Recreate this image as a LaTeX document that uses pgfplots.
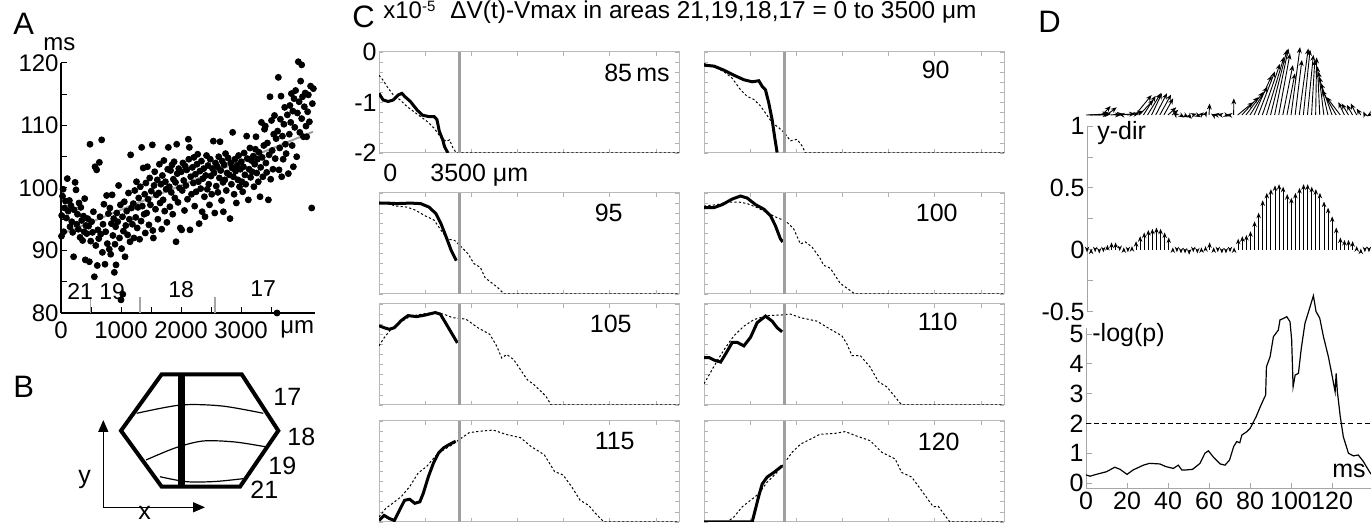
\documentclass[border=0pt]{standalone}
\usepackage{fontspec}
\setmainfont{Liberation Sans}
\usepackage{pgfplots}
\pgfplotsset{compat=1.18}
\usetikzlibrary{arrows.meta}
% positions: reference pixel (x from left, y from top), 1 px = 0.5pt
\newcommand\fs[1]{\fontsize{#1}{#1}\selectfont}

\pgfplotsset{
  every axis/.append style={scale only axis, anchor=south west,
    /pgf/number format/assume math mode=true, /pgf/number format/1000 sep={},
    scaled ticks=false},
  cpanel/.style={width=150pt, height=50.5pt, xmin=0, xmax=13000, ymin=-2, ymax=0,
    axis line style={gray!55, line width=0.5pt},
    xtick={0,2000,...,12000}, ytick={-2,-1,0},
    minor ytick={-1.8,-1.6,-1.4,-1.2,-0.8,-0.6,-0.4,-0.2},
    xticklabels={}, yticklabels={}, tick align=inside,
    major tick length=2pt, minor tick length=2pt,
    tick style={gray!60, line width=0.3pt},
    yticklabel style={font=\fs{12.5}, inner sep=1pt}},
  solid curve/.style={black, line width=1.5pt},
  model curve/.style={black, line width=0.5pt, dash pattern=on 1.1pt off 1.1pt},
  mark3500/.style={gray!75, line width=1.4pt},
}

\begin{document}
\begin{tikzpicture}
\useasboundingbox (0,0) rectangle (685.5pt,261.5pt);

% ---------------- A: latency vs position ----------------
\begin{axis}[at={(30.5pt,105pt)}, width=127pt, height=125pt,
  xmin=0, xmax=4233, ymin=80, ymax=120,
  axis x line*=bottom, axis y line*=left, axis line style={-, line width=0.7pt},
  xtick={0,1000,2000,3000}, minor xtick={500,1500,2500,3500},
  ytick={80,90,...,120}, minor ytick={85,95,105,115},
  tick align=inside, major tick length=3pt, minor tick length=3pt,
  tick style={black, line width=0.5pt},
  tick label style={font=\fs{12}},
  yticklabel style={inner sep=1pt}, xticklabel style={inner sep=2.5pt, yshift=-1.5pt},
  clip=false]
\addplot[only marks, mark=*, mark size=1.5pt, black] coordinates {
(8,92.3)(12,95.6)(25,98.7)(35,99.8)(45,93.0)(60,96.8)(75,97.9)(90,95.2)(105,101.5)(120,96.3)(140,98.0)(150,93.8)(165,97.2)(180,94.6)(195,92.9)
(210,89.0)(220,96.5)(235,100.9)(250,99.7)(262,94.2)(275,95.8)(290,93.4)(300,97.6)(318,92.1)(330,96.9)(345,94.8)(360,91.6)(375,95.5)(385,93.0)(395,98.3)
(405,88.5)(415,94.0)(430,92.7)(445,95.1)(460,93.9)(472,88.2)(483,107.0)(495,91.5)(510,94.6)(525,92.9)(540,96.2)(556,85.8)(567,103.4)(580,90.8)(594,102.9)
(605,87.6)(615,93.3)(628,91.9)(639,104.1)(650,95.4)(662,92.6)(678,107.7)(690,89.7)(700,94.2)(715,97.4)(733,87.8)(745,93.0)(760,98.8)(772,91.1)(790,95.9)
(805,90.2)(815,96.8)(828,89.4)(840,94.3)(852,98.9)(865,92.4)(878,95.1)(889,86.5)(900,91.0)(910,93.8)(917,87.7)(930,96.0)(945,94.6)(960,100.4)(975,92.0)(990,97.3)
(1000,82.1)(1030,83.0)(1010,90.3)(1025,95.4)(1040,93.1)(1055,97.8)(1067,89.0)(1080,94.0)(1095,96.3)(1110,92.5)(1125,99.2)(1140,95.0)(1150,91.4)(1161,105.3)(1175,96.8)(1190,94.2)
(1205,97.5)(1215,92.0)(1230,99.6)(1245,95.3)(1258,101.0)(1270,93.6)(1282,96.9)(1295,98.4)(1310,91.8)(1322,100.2)(1335,94.7)(1344,106.5)(1355,97.1)(1370,103.2)(1385,95.8)(1395,99.0)
(1405,92.8)(1415,100.8)(1428,96.0)(1440,103.4)(1452,98.2)(1465,94.1)(1478,101.6)(1490,97.3)(1505,99.5)(1522,106.9)(1530,93.2)(1539,92.0)(1550,100.4)(1562,102.6)(1575,96.6)(1590,98.9)
(1605,101.3)(1615,95.0)(1628,99.2)(1640,103.8)(1652,97.6)(1665,100.6)(1678,93.4)(1690,102.0)(1702,98.1)(1715,104.4)(1728,96.3)(1740,101.0)(1752,99.8)(1765,94.5)(1778,103.0)(1789,106.5)
(1805,100.2)(1815,97.0)(1826,102.8)(1838,99.3)(1850,103.7)(1862,95.8)(1873,101.4)(1885,104.2)(1897,98.4)(1908,100.9)(1917,91.4)(1928,107.0)(1938,102.3)(1950,97.7)(1962,103.1)(1975,100.0)(1988,93.6)
(2005,102.6)(2011,93.3)(2020,99.6)(2032,104.0)(2045,101.2)(2058,96.4)(2070,103.5)(2082,100.4)(2095,102.9)(2108,98.2)(2122,107.8)(2130,104.6)(2139,106.5)(2150,93.3)(2162,101.8)(2175,99.0)(2190,103.3)
(2205,100.8)(2215,104.9)(2228,97.1)(2240,102.2)(2252,99.4)(2265,103.8)(2278,105.4)(2290,101.0)(2302,94.3)(2315,102.7)(2328,99.9)(2340,104.3)(2352,96.2)(2365,101.5)(2378,103.1)(2390,98.6)
(2400,95.4)(2412,102.0)(2425,105.2)(2438,99.8)(2450,103.6)(2462,100.6)(2475,97.3)(2488,104.6)(2500,101.9)(2512,99.0)(2525,103.1)(2539,107.5)(2550,102.4)(2562,96.0)(2575,104.0)(2588,100.3)
(2605,103.4)(2615,99.3)(2628,105.0)(2640,101.6)(2650,107.4)(2662,102.8)(2675,98.0)(2688,104.3)(2700,100.9)(2706,96.2)(2718,103.7)(2730,101.3)(2742,105.5)(2755,99.6)(2768,102.4)(2785,104.8)
(2805,102.1)(2817,95.1)(2828,104.0)(2840,100.6)(2852,103.2)(2861,108.9)(2872,101.8)(2885,99.0)(2898,104.6)(2910,102.7)(2922,97.6)(2935,103.6)(2948,101.3)(2960,105.2)(2975,100.2)(2990,103.0)
(3005,104.2)(3015,101.0)(3028,99.4)(3040,103.4)(3052,105.6)(3065,102.1)(3078,100.6)(3094,108.3)(3105,104.7)(3122,98.1)(3135,103.0)(3148,106.4)(3160,101.7)(3172,104.4)(3185,102.6)
(3205,105.1)(3215,100.2)(3228,103.8)(3240,106.2)(3250,108.2)(3262,102.4)(3275,104.6)(3288,101.0)(3300,105.7)(3317,98.6)(3328,103.3)(3340,110.5)(3352,104.9)(3365,101.8)(3380,106.8)(3392,109.4)
(3405,109.9)(3415,104.0)(3428,102.5)(3440,107.2)(3456,98.1)(3468,105.3)(3483,114.6)(3495,101.4)(3508,110.8)(3520,106.0)(3532,103.0)(3545,108.6)(3558,111.6)(3570,104.7)(3585,107.9)(3600,80.0)
(3610,109.1)(3622,117.7)(3634,102.9)(3645,106.4)(3656,111.0)(3667,114.7)(3678,101.8)(3690,108.3)(3702,104.6)(3715,110.2)(3728,112.9)(3740,107.0)(3752,105.5)(3772,111.7)(3789,102.3)
(3805,108.6)(3815,113.2)(3828,110.5)(3840,115.1)(3852,106.8)(3864,112.3)(3872,103.4)(3884,114.3)(3896,109.7)(3910,115.6)(3928,105.0)(3940,112.0)(3955,120.2)(3968,113.8)(3980,108.9)(3994,117.1)
(4011,119.7)(4011,111.1)(4025,114.6)(4040,108.2)(4055,113.0)(4070,115.2)(4083,109.9)(4094,108.2)(4110,112.2)(4122,114.9)(4140,110.6)(4160,116.3)(4178,96.8)(4189,113.5)(4206,115.9)
};
\addplot[gray!75, line width=1pt] coordinates {(0,92.6)(4200,109)};
\addplot[gray!70, line width=0.6pt] coordinates {(495,80)(495,82.6)};
\addplot[gray!70, line width=0.6pt] coordinates {(1317,80)(1317,82.6)};
\addplot[gray!70, line width=0.6pt] coordinates {(2567,80)(2567,82.6)};
\end{axis}

% ---------------- C: eight profiles ----------------
\begin{axis}[cpanel, at={(189.5pt,185pt)}, yticklabels={-2,-1,0}]
\addplot[model curve] coordinates {(0,-0.46)(177,-0.56)(400,-0.72)(620,-0.85)(916,-0.95)(1211,-1.08)(1506,-1.18)(1802,-1.28)(2097,-1.38)(2393,-1.51)(2688,-1.70)(2910,-1.77)(3057,-1.74)(3205,-1.90)(3353,-2.0)(13000,-2.0)};
\addplot[solid curve] coordinates {(0,-0.82)(177,-0.95)(400,-0.98)(620,-0.95)(842,-0.85)(990,-0.82)(1137,-0.89)(1359,-0.98)(1654,-1.15)(1876,-1.25)(2171,-1.28)(2393,-1.28)(2511,-1.34)(2614,-1.57)(2762,-1.74)(2836,-1.87)(2984,-2.0)};
\addplot[mark3500] coordinates {(3500,-2)(3500,0)};
\end{axis}
\begin{axis}[cpanel, at={(352pt,185pt)}]
\addplot[model curve] coordinates {(0,-0.23)(432,-0.29)(864,-0.39)(1224,-0.52)(1584,-0.75)(1872,-0.88)(2160,-0.94)(2448,-1.07)(2664,-1.21)(2952,-1.40)(3240,-1.50)(3485,-1.60)(3744,-1.76)(4032,-1.73)(4248,-1.86)(4392,-2.0)(13000,-2)};
\addplot[solid curve] coordinates {(0,-0.26)(432,-0.28)(864,-0.36)(1296,-0.46)(1728,-0.55)(2088,-0.59)(2376,-0.57)(2520,-0.68)(2664,-0.75)(2808,-1.01)(2952,-1.34)(3053,-1.66)(3168,-1.99)};
\addplot[mark3500] coordinates {(3500,-2)(3500,0)};
\end{axis}
\begin{axis}[cpanel, at={(189.5pt,114.5pt)}]
\addplot[model curve] coordinates {(0,-0.18)(325,-0.21)(768,-0.26)(1211,-0.28)(1580,-0.34)(1950,-0.44)(2393,-0.54)(2688,-0.74)(2984,-0.91)(3280,-0.94)(3575,-1.07)(3870,-1.21)(4114,-1.40)(4387,-1.47)(4600,-1.68)(5138,-1.87)(5426,-2.0)(13000,-2)};
\addplot[solid curve] coordinates {(0,-0.2)(325,-0.2)(768,-0.21)(1359,-0.2)(1802,-0.21)(2171,-0.28)(2467,-0.41)(2688,-0.61)(2910,-0.87)(3131,-1.14)(3353,-1.34)};
\addplot[mark3500] coordinates {(3500,-2)(3500,0)};
\end{axis}
\begin{axis}[cpanel, at={(352pt,114.5pt)}]
\addplot[model curve] coordinates {(0,-0.26)(576,-0.23)(1008,-0.18)(1512,-0.18)(1872,-0.21)(2304,-0.29)(2736,-0.39)(3168,-0.49)(3528,-0.55)(3888,-0.71)(4176,-1.01)(4392,-0.97)(4680,-1.07)(5040,-1.30)(5184,-1.43)(5472,-1.49)(5904,-1.79)(6480,-1.98)(6550,-2)(13000,-2)};
\addplot[solid curve] coordinates {(0,-0.29)(432,-0.29)(792,-0.23)(1224,-0.12)(1584,-0.06)(1872,-0.10)(2232,-0.23)(2592,-0.32)(2880,-0.45)(3096,-0.65)(3312,-0.91)(3413,-0.97)};
\addplot[mark3500] coordinates {(3500,-2)(3500,0)};
\end{axis}
\begin{axis}[cpanel, at={(189.5pt,59pt)}]
\addplot[model curve] coordinates {(0,-0.83)(222,-0.67)(517,-0.5)(886,-0.37)(1329,-0.25)(1846,-0.2)(2363,-0.17)(2806,-0.2)(3176,-0.27)(3767,-0.3)(4283,-0.47)(4800,-0.6)(5096,-0.83)(5318,-1.07)(5539,-1.0)(5834,-1.1)(6130,-1.3)(6425,-1.5)(6721,-1.6)(7016,-1.73)(7238,-1.83)(7460,-2.0)(13000,-2)};
\addplot[solid curve] coordinates {(0,-0.43)(222,-0.47)(443,-0.5)(665,-0.47)(960,-0.33)(1255,-0.23)(1625,-0.25)(1994,-0.22)(2437,-0.17)(2659,-0.20)(2880,-0.37)(3176,-0.60)(3397,-0.77)};
\addplot[mark3500] coordinates {(3500,-2)(3500,0)};
\end{axis}
\begin{axis}[cpanel, at={(352pt,59pt)}]
\addplot[model curve] coordinates {(0,-1.58)(288,-1.35)(576,-1.12)(936,-0.86)(1296,-0.63)(1728,-0.44)(2160,-0.31)(2736,-0.23)(3312,-0.22)(3744,-0.2)(4176,-0.27)(4896,-0.34)(5472,-0.5)(5976,-0.63)(6192,-0.79)(6408,-1.02)(6768,-1.02)(7200,-1.25)(7560,-1.54)(7920,-1.64)(8208,-1.8)(8568,-2.0)(13000,-2)};
\addplot[solid curve] coordinates {(0,-1.06)(216,-1.06)(432,-1.11)(720,-1.15)(936,-0.99)(1224,-0.76)(1440,-0.76)(1728,-0.83)(2016,-0.66)(2304,-0.37)(2664,-0.24)(2952,-0.34)(3168,-0.47)(3384,-0.55)};
\addplot[mark3500] coordinates {(3500,-2)(3500,0)};
\end{axis}
\begin{axis}[cpanel, at={(189.5pt,0.5pt)}]
\addplot[model curve] coordinates {(0,-1.9)(295,-1.73)(591,-1.63)(960,-1.5)(1329,-1.3)(1698,-1.03)(2068,-0.9)(2437,-0.7)(2806,-0.57)(3176,-0.47)(3471,-0.37)(3914,-0.23)(4431,-0.2)(4948,-0.18)(5539,-0.27)(6130,-0.33)(6573,-0.5)(7164,-0.67)(7607,-1.0)(7976,-1.07)(8345,-1.3)(8714,-1.57)(9083,-1.67)(9380,-1.83)(9750,-2.0)(13000,-2)};
\addplot[solid curve] coordinates {(0,-1.97)(222,-1.87)(443,-1.93)(665,-1.97)(886,-1.77)(1108,-1.57)(1329,-1.55)(1551,-1.63)(1772,-1.6)(1920,-1.43)(2142,-1.1)(2363,-0.83)(2585,-0.63)(2806,-0.53)(3028,-0.47)(3323,-0.4)};
\addplot[mark3500] coordinates {(3500,-2)(3500,0)};
\end{axis}
\begin{axis}[cpanel, at={(352pt,0.5pt)}]
\addplot[model curve] coordinates {(0,-2)(1008,-2)(1296,-1.9)(1656,-1.7)(2016,-1.57)(2376,-1.44)(2736,-1.21)(3096,-1.05)(3456,-0.85)(3816,-0.62)(4176,-0.46)(4608,-0.36)(5040,-0.26)(5616,-0.25)(6120,-0.21)(6624,-0.3)(7200,-0.39)(7704,-0.62)(8280,-0.75)(8568,-1.02)(9000,-1.11)(9432,-1.38)(9936,-1.7)(10152,-1.69)(10440,-1.87)(10656,-2.0)(13000,-2)};
\addplot[solid curve] coordinates {(0,-2)(2088,-2)(2232,-1.74)(2376,-1.48)(2520,-1.25)(2736,-1.11)(3024,-1.02)(3384,-0.89)};
\addplot[mark3500] coordinates {(3500,-2)(3500,0)};
\end{axis}

% ---------------- D1: direction vectors ----------------
\begin{axis}[at={(543pt,197.6pt)}, width=142.5pt, height=44.8pt,
  xmin=0, xmax=139, ymin=-0.1, ymax=0.6, hide axis, clip=false]
\addplot[black, line width=0.45pt, -{Stealth[length=3pt,width=2.4pt]},
  quiver={u=\thisrow{u}, v=\thisrow{v}}] table[x=t, y=y0] {
t u v y0
0 12 0.005 0
2 10 0.01 0
4 7 0.003 0
6 5 0.02 0
8 4 0.07 0
10 5 0.06 0
12 6 0.01 0
14 3 0.005 0
16 8 0.01 0
18 -2 0.005 0
20 6 0.01 0
22 6 0.03 0
24 8 0.156 0
26 7 0.12 0
28 6 0.15 0
30 6.5 0.17 0
32 5 0.17 0
34 5.5 0.17 0
36 5.5 0.16 0
38 4.5 0.13 0
40 4 0.06 0
42 3 0.04 0
44 -1.5 0.02 0
46 2 -0.02 0
48 2 -0.02 0
50 1.5 -0.03 0
52 2 0.01 0
54 2 -0.015 0
56 1.5 0.02 0
58 1 0.03 0
60 0.3 0.09 0
62 -1 0.01 0
64 -2 0.005 0
66 -2 0.005 0
68 2 -0.01 0
70 -1.5 0.003 0
72 0.1 0.13 0
74 7.6 0.10 0
76 8.1 0.14 0
78 8.5 0.18 0
80 8.5 0.22 0
82 8.6 0.31 0
84 8.1 0.34 0
86 8.6 0.40 0
88 8.6 0.455 0
90 8.0 0.51 0
92 6.7 0.52 0
94 5.5 0.48 0
96 4.9 0.39 0
98 3.9 0.325 0
100 4.4 0.53 0
102 3.3 0.43 0
104 4.4 0.52 0
106 3.3 0.51 0
108 2.9 0.47 0
110 1.6 0.43 0
112 0.5 0.45 0
114 -1.1 0.38 0
116 -2.6 0.34 0
118 -4.2 0.30 0
120 -5.5 0.25 0
122 -7 0.195 0
124 -6.7 0.14 0
126 -2.9 0.10 0
128 -3.3 0.09 0
130 -2.8 0.08 0
132 -2.9 0.09 0
134 -2 0.05 0
136 -0.7 0.026 0
138 -1 -0.01 0
};
\end{axis}

% ---------------- D2: y-direction component ----------------
\begin{axis}[at={(543.5pt,105.65pt)}, width=142pt, height=92.85pt,
  xmin=0, xmax=139, ymin=-0.5, ymax=1,
  axis y line*=left, axis x line=none, axis line style={-, gray!70, line width=0.5pt},
  ytick={-0.5,0,0.5,1}, minor ytick={-0.25,0.25,0.75},
  tick align=inside, major tick length=3pt, minor tick length=3pt,
  tick style={gray!70, line width=0.4pt},
  tick label style={font=\fs{12.5}}, yticklabel style={inner sep=1pt},
  clip=false]
\addplot[black, line width=0.45pt, -{Stealth[length=2.8pt,width=2.2pt]},
  quiver={u=0, v=\thisrow{v}}] table[x=t, y=y0] {
t v y0
0 -0.02 0
2 0.01 0
4 -0.02 0
6 -0.03 0
8 -0.02 0
10 0.04 0
12 0.06 0
14 0.06 0
16 -0.01 0
18 0.02 0
20 -0.02 0
22 0.03 0
24 0.07 0
26 0.11 0
28 0.14 0
30 0.16 0
32 0.17 0
34 0.18 0
36 0.17 0
38 0.14 0
40 0.10 0
42 0.02 0
44 -0.02 0
46 -0.03 0
48 -0.03 0
50 -0.04 0
52 -0.02 0
54 -0.03 0
56 0.02 0
58 0.03 0
60 0.06 0
62 0.02 0
64 -0.02 0
66 -0.03 0
68 -0.03 0
70 -0.02 0
72 0.02 0
74 0.09 0
76 0.11 0
78 0.12 0
80 0.15 0
82 0.23 0
84 0.30 0
86 0.40 0
88 0.46 0
90 0.49 0
92 0.52 0
94 0.53 0
96 0.51 0
98 0.45 0
100 0.42 0
102 0.46 0
104 0.50 0
106 0.53 0
108 0.53 0
110 0.51 0
112 0.49 0
114 0.46 0
116 0.39 0
118 0.34 0
120 0.27 0
122 0.18 0
124 0.10 0
126 0.08 0
128 0.08 0
130 0.07 0
132 0.03 0
134 0.01 0
136 -0.02 0
138 -0.02 0
};
\end{axis}

% ---------------- D3: significance ----------------
\begin{axis}[at={(543pt,17pt)}, width=142.5pt, height=80.5pt,
  xmin=0, xmax=139, ymin=-0.2, ymax=5.2,
  axis x line*=bottom, axis y line*=left, axis line style={-, gray!70, line width=0.5pt},
  xtick={0,20,...,120}, ytick={0,1,...,5},
  tick align=inside, major tick length=3pt,
  tick style={gray!70, line width=0.4pt},
  tick label style={font=\fs{12.5}}, yticklabel style={inner sep=1pt},
  xticklabel style={inner sep=1.5pt},
  clip=false]
\addplot[black, line width=0.6pt] table[x=t, y=p] {
t p
0 0.27
2 0.23
5 0.29
10 0.38
14 0.53
16.6 0.46
20 0.29
23 0.44
28 0.60
31 0.66
36 0.64
39 0.55
42.6 0.49
45 0.60
46.7 0.44
49 0.44
52 0.46
55.6 0.66
58 1.00
59.7 1.08
62 0.88
65.4 0.64
67.8 0.60
70 0.77
72 1.22
73.5 1.39
75 1.35
76 1.61
78.4 1.72
80 1.83
81.6 2.04
83 2.23
85 2.56
86.5 2.79
87.6 2.95
88 3.90
89.8 4.24
91.4 4.91
93.8 5.13
94.6 5.47
96.3 5.52
97.9 5.58
99.5 5.41
100.3 4.80
101 3.23
102 3.62
103.6 3.68
105 4.52
106.8 5.36
109.3 5.92
110.9 6.28
112.2 5.75
114 5.53
115.8 4.91
118.2 4.24
119.8 3.68
121.5 3.06
122 3.68
122.6 3.06
124 2.23
125.5 1.55
128 1.00
130.4 0.91
132.8 0.94
135.3 0.72
137.7 0.44
139 0.30
};
\addplot[black, line width=0.6pt, dash pattern=on 2.5pt off 1.6pt] coordinates {(0,2)(139,2)};
\end{axis}

% ---------------- overlay in pixel units: B diagram and texts ----------------
\begin{axis}[at={(0pt,0pt)}, width=685.5pt, height=261.5pt,
  xmin=0, xmax=1371, ymin=0, ymax=523, y dir=reverse, hide axis, clip=false]
% B: hexagon schematic
\addplot[black, line width=2pt, line join=miter] coordinates {(161.7,374.3)(241.7,374.3)(278.3,430.7)(240,486.7)(161.7,486.7)(121,430.7)(161.7,374.3)(241.7,374.3)};
\addplot[black, line width=0.6pt, smooth] coordinates {(136.7,413.3)(181,405)(222,406)(263.3,413.3)};
\addplot[black, line width=0.6pt, smooth] coordinates {(146,460)(175,448)(203,441)(235,442)(265,446.7)};
\addplot[black, line width=0.6pt, smooth] coordinates {(160,476.7)(186.7,481.7)(215,481.5)(243,478.7)};
\addplot[black, line width=3.3pt] coordinates {(181.7,374.3)(181.7,486.7)};
\addplot[black, line width=0.7pt, {Triangle[length=6pt,width=5pt]}-{Triangle[length=6pt,width=5pt]}] coordinates {(103.3,420)(103.3,507.3)(205,507.3)};
% panel letters
\node[anchor=base west, font=\fs{15.5}, inner sep=0pt] at (axis cs:13,35) {A};
\node[anchor=base west, font=\fs{15.5}, inner sep=0pt] at (axis cs:13,398) {B};
\node[anchor=base west, font=\fs{15.5}, inner sep=0pt] at (axis cs:352,28) {C};
\node[anchor=base west, font=\fs{15.5}, inner sep=0pt] at (axis cs:1038,33) {D};
% A texts
\node[anchor=base west, font=\fs{12}, inner sep=0pt] at (axis cs:43,51) {ms};
\node[anchor=base west, font=\fs{12}, inner sep=0pt] at (axis cs:280,334) {μm};
\node[anchor=base west, font=\fs{11.5}, inner sep=0pt] at (axis cs:67,300) {21};
\node[anchor=base west, font=\fs{11.5}, inner sep=0pt] at (axis cs:99,300) {19};
\node[anchor=base west, font=\fs{11.5}, inner sep=0pt] at (axis cs:168,298) {18};
\node[anchor=base west, font=\fs{11.5}, inner sep=0pt] at (axis cs:250,297) {17};
% B texts
\node[anchor=base west, font=\fs{12.5}, inner sep=0pt] at (axis cs:273,406) {17};
\node[anchor=base west, font=\fs{12.5}, inner sep=0pt] at (axis cs:287,446) {18};
\node[anchor=base west, font=\fs{12.5}, inner sep=0pt] at (axis cs:268,475) {19};
\node[anchor=base west, font=\fs{12.5}, inner sep=0pt] at (axis cs:250,499) {21};
\node[anchor=base west, font=\fs{12.5}, inner sep=0pt] at (axis cs:78,484) {y};
\node[anchor=base west, font=\fs{12.5}, inner sep=0pt] at (axis cs:138,519.5) {x};
% C texts
\node[anchor=base west, font=\fs{12}, inner sep=0pt] at (axis cs:383,19) {x10\raisebox{3.5pt}{\fs{7.5}-5}};
\node[anchor=base west, font=\fs{12.2}, inner sep=0pt] at (axis cs:450,19) {ΔV(t)-Vmax in areas 21,19,18,17 = 0 to 3500 μm};
\node[anchor=base west, font=\fs{12.5}, inner sep=0pt] at (axis cs:383,182) {0};
\node[anchor=base west, font=\fs{12.5}, inner sep=0pt] at (axis cs:430,182) {3500 μm};
\node[anchor=base east, font=\fs{12.5}, inner sep=0pt] at (axis cs:670,82) {85\,ms};
\node[anchor=base east, font=\fs{12.5}, inner sep=0pt] at (axis cs:950,79) {90};
\node[anchor=base east, font=\fs{12.5}, inner sep=0pt] at (axis cs:623,222) {95};
\node[anchor=base east, font=\fs{12.5}, inner sep=0pt] at (axis cs:958,222) {100};
\node[anchor=base east, font=\fs{12.5}, inner sep=0pt] at (axis cs:632,333) {105};
\node[anchor=base east, font=\fs{12.5}, inner sep=0pt] at (axis cs:958,331) {110};
\node[anchor=base east, font=\fs{12.5}, inner sep=0pt] at (axis cs:635,450) {115};
\node[anchor=base east, font=\fs{12.5}, inner sep=0pt] at (axis cs:960,451) {120};
% D texts
\node[anchor=base west, font=\fs{12.5}, inner sep=0pt] at (axis cs:1097,140) {y-dir};
\node[anchor=base west, font=\fs{12.5}, inner sep=0pt] at (axis cs:1092,342) {-log(p)};
\node[anchor=base west, font=\fs{12.5}, inner sep=0pt] at (axis cs:1332,478) {ms};
\end{axis}
\end{tikzpicture}
\end{document}
